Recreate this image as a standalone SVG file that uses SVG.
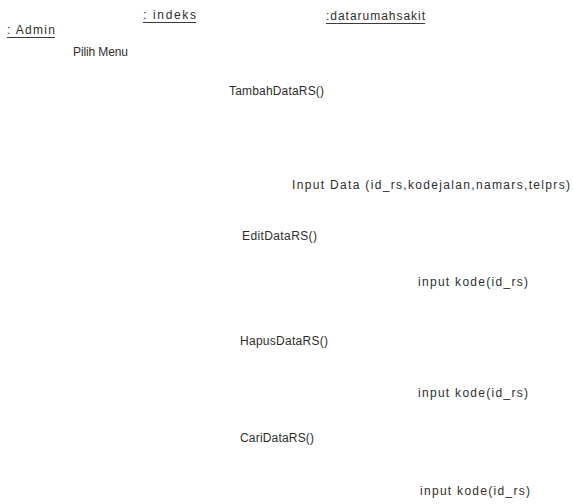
<svg xmlns="http://www.w3.org/2000/svg" width="573" height="504" viewBox="0 0 573 504">
  <style>
    text { font-family: "Liberation Sans", Arial, sans-serif; font-size: 12px; fill: #2e2e2e; }
    .ul { stroke: #3a3a3a; stroke-width: 1; }
  </style>
  <rect width="573" height="504" fill="#ffffff"/>

  <!-- lifeline heads -->
  <g id="admin">
    <text x="7" y="34" textLength="48" lengthAdjust="spacing">: Admin</text>
    <line class="ul" x1="7" y1="37.5" x2="55" y2="37.5"/>
  </g>
  <g id="indeks">
    <text x="143" y="19" textLength="53" lengthAdjust="spacing">: indeks</text>
    <line class="ul" x1="143" y1="22.5" x2="196" y2="22.5"/>
  </g>
  <g id="datarumahsakit">
    <text x="326" y="20" textLength="99" lengthAdjust="spacing">:datarumahsakit</text>
    <line class="ul" x1="326" y1="23.5" x2="425" y2="23.5"/>
  </g>

  <!-- message labels -->
  <g id="connectors">
    <text x="73" y="56" textLength="55" lengthAdjust="spacing">Pilih Menu</text>
    <text x="229" y="95" textLength="95" lengthAdjust="spacing">TambahDataRS()</text>
    <text x="292" y="189" textLength="278" lengthAdjust="spacing">Input Data (id_rs,kodejalan,namars,telprs)</text>
    <text x="242" y="240" textLength="75" lengthAdjust="spacing">EditDataRS()</text>
    <text x="418" y="286" textLength="110" lengthAdjust="spacing">input kode(id_rs)</text>
    <text x="240" y="345" textLength="88" lengthAdjust="spacing">HapusDataRS()</text>
    <text x="418" y="397" textLength="110" lengthAdjust="spacing">input kode(id_rs)</text>
    <text x="240" y="442" textLength="74" lengthAdjust="spacing">CariDataRS()</text>
    <text x="420" y="495" textLength="110" lengthAdjust="spacing">input kode(id_rs)</text>
  </g>
</svg>
